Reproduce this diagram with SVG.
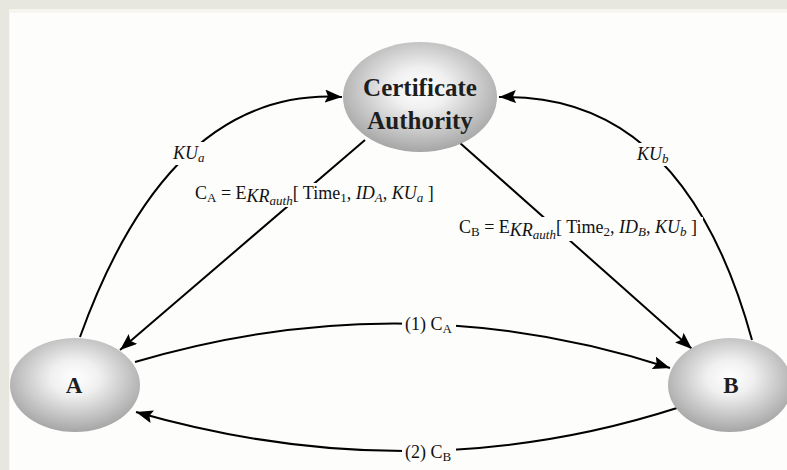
<svg xmlns="http://www.w3.org/2000/svg" width="787" height="470" viewBox="0 0 787 470">
  <defs>
    <radialGradient id="ball" cx="0.5" cy="0.42" r="0.62">
      <stop offset="0" stop-color="#ffffff"/>
      <stop offset="0.3" stop-color="#f0f0f0"/>
      <stop offset="1" stop-color="#9e9e9e"/>
    </radialGradient>
    <marker id="arrow" markerUnits="userSpaceOnUse" markerWidth="18" markerHeight="14" refX="17" refY="6.5" orient="auto">
      <path d="M0,0 L17,6.5 L0,13 L3,6.5 Z" fill="#000"/>
    </marker>
    <style>
      .node { fill: url(#ball); }
      .name { font-family: "Liberation Serif", "Times New Roman", serif; font-weight: bold; fill: #1e1e1e; text-anchor: middle; }
      .edge { fill: none; stroke: #000; stroke-width: 2; marker-end: url(#arrow); }
      .gap { fill: #fdfdfc; }
      .lbl { font-family: "Liberation Serif", "Times New Roman", serif; font-size: 18px; fill: #111; }
      .it { font-style: italic; }
      .sub { font-size: 13px; }
    </style>
  </defs>

  <!-- page frame -->
  <rect x="0" y="0" width="787" height="470" fill="#e7e7e0"/>
  <rect x="9" y="9" width="778" height="461" fill="#f6f6ee"/>
  <rect x="10" y="13" width="777" height="457" fill="#fdfdfc"/>

  <!-- connectors -->
  <g id="connectors">
    <path class="edge" d="M80,337 Q170,87 342,97"/>
    <path class="edge" d="M752,340 Q684,92 499,97"/>
    <path class="edge" d="M365,140 L120,350"/>
    <path class="edge" d="M460,143 L692,349"/>
    <path class="edge" d="M135,362 Q405,282 670,368"/>
    <path class="edge" d="M677,408 Q415,492 136,412"/>
  </g>

  <!-- connector labels, each on a blank patch that breaks its line -->
  <g id="labels">
    <rect class="gap" x="170" y="142" width="36" height="23"/>
    <text class="lbl it" x="173" y="159">KU<tspan class="sub" dy="3">a</tspan></text>
    <rect class="gap" x="634" y="143" width="40" height="23"/>
    <text class="lbl it" x="637" y="160">KU<tspan class="sub" dy="3">b</tspan></text>
    <rect class="gap" x="191" y="183" width="248" height="24"/>
    <text class="lbl" x="195" y="199">C<tspan class="sub" dy="3">A</tspan><tspan dy="-3"> = E</tspan><tspan class="it" dy="3">KR</tspan><tspan class="it sub" dy="3">auth</tspan><tspan dy="-6">[ Time</tspan><tspan class="sub" dy="3">1</tspan><tspan dy="-3">, </tspan><tspan class="it">ID</tspan><tspan class="it sub" dy="3">A</tspan><tspan dy="-3">, </tspan><tspan class="it">KU</tspan><tspan class="it sub" dy="3">a</tspan><tspan dy="-3"> ]</tspan></text>
    <rect class="gap" x="455" y="217" width="248" height="24"/>
    <text class="lbl" x="459" y="233">C<tspan class="sub" dy="3">B</tspan><tspan dy="-3"> = E</tspan><tspan class="it" dy="3">KR</tspan><tspan class="it sub" dy="3">auth</tspan><tspan dy="-6">[ Time</tspan><tspan class="sub" dy="3">2</tspan><tspan dy="-3">, </tspan><tspan class="it">ID</tspan><tspan class="it sub" dy="3">B</tspan><tspan dy="-3">, </tspan><tspan class="it">KU</tspan><tspan class="it sub" dy="3">b</tspan><tspan dy="-3"> ]</tspan></text>
    <rect class="gap" x="402" y="314" width="54" height="23"/>
    <text class="lbl" x="405" y="330">(1) C<tspan class="sub" dy="3">A</tspan></text>
    <rect class="gap" x="402" y="442" width="54" height="23"/>
    <text class="lbl" x="405" y="458">(2) C<tspan class="sub" dy="3">B</tspan></text>
  </g>

  <!-- nodes -->
  <g id="node-ca">
    <ellipse class="node" cx="420" cy="97" rx="77" ry="55"/>
    <text class="name" x="420" y="96" font-size="25">Certificate</text>
    <text class="name" x="420" y="129" font-size="25">Authority</text>
  </g>
  <g id="node-a">
    <ellipse class="node" cx="75" cy="385" rx="65" ry="47"/>
    <text class="name" x="74" y="393" font-size="23">A</text>
  </g>
  <g id="node-b">
    <ellipse class="node" cx="730" cy="385" rx="62" ry="47"/>
    <text class="name" x="731" y="393" font-size="23">B</text>
  </g>
</svg>
